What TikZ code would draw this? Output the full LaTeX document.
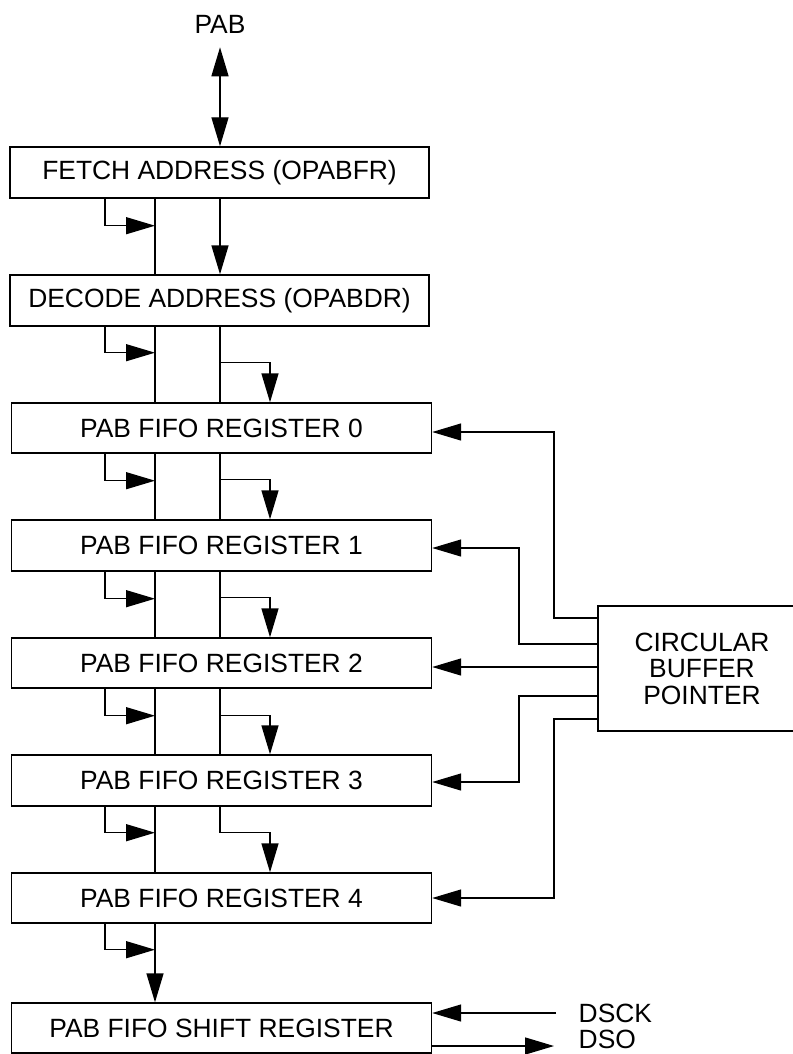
\documentclass[tikz,border=0pt]{standalone}
\usepackage{fontspec}
\setmainfont{Liberation Sans}
\usetikzlibrary{arrows.meta,calc}
\begin{document}
\begin{tikzpicture}[x=1pt,y=-1pt,
  line width=1.4pt,
  tip/.tip={Triangle[length=29pt,width=17pt]},
  arr/.style={-tip},
  arrboth/.style={tip-tip},
  box/.style={draw, line width=1.4pt, inner sep=0pt, anchor=center,
    font=\fontsize{26.4}{26.5}\selectfont},
  lbl/.style={inner sep=0pt, font=\fontsize{26.4}{26.5}\selectfont}]
\useasboundingbox (0,0) rectangle (792,1054);
\fill[white] (0,0) rectangle (792,1054);
% positions of the vertical buses
\coordinate (L) at (105,0);
\coordinate (M) at (155,0);
\coordinate (R) at (220,0);
\coordinate (B) at (270,0);
% nodes
\node[lbl] (pab) at (220,24) {PAB};
\node[box, minimum width=419pt, minimum height=51pt] (fetch) at (219.5,172.5) {FETCH ADDRESS (OPABFR)};
\node[box, minimum width=419pt, minimum height=51pt] (decode) at (219.5,300.5) {DECODE ADDRESS (OPABDR)};
\node[box, minimum width=420pt, minimum height=50pt] (reg0) at (221.5,428) {PAB FIFO REGISTER 0};
\node[box, minimum width=420pt, minimum height=51pt] (reg1) at (221.5,545.5) {PAB FIFO REGISTER 1};
\node[box, minimum width=420pt, minimum height=50pt] (reg2) at (221.5,663) {PAB FIFO REGISTER 2};
\node[box, minimum width=420pt, minimum height=51pt] (reg3) at (221.5,780.5) {PAB FIFO REGISTER 3};
\node[box, minimum width=420pt, minimum height=50pt] (reg4) at (221.5,898) {PAB FIFO REGISTER 4};
\node[box, minimum width=420pt, minimum height=50pt] (shift) at (221.5,1028) {PAB FIFO SHIFT REGISTER};
\node[box, align=center, minimum width=208pt, minimum height=125pt] (cbp) at (702,668.5) {CIRCULAR\\BUFFER\\POINTER};
\node[lbl, anchor=west] (dsck) at (578,1013) {DSCK};
\node[lbl, anchor=west] (dso) at (578,1039) {DSO};
% PAB bus
\draw[arrboth] ([yshift=-13.5pt]pab.south) -- (pab |- fetch.north);
% fetch -> decode
\draw[arr] (fetch.south -| L) |- ($(fetch.south -| M)+(0,27)$);
\draw (fetch.south -| M) -- (decode.north -| M);
\draw[arr] (fetch.south -| R) -- (decode.north -| R);
% decode -> reg0
\draw[arr] (decode.south -| L) |- ($(decode.south -| M)+(0,26)$);
\draw (decode.south -| M) -- (reg0.north -| M);
\draw (decode.south -| R) -- (reg0.north -| R);
\draw[arr] ($(decode.south -| R)+(0,36)$) -| (reg0.north -| B);
% reg0 -> reg1
\draw[arr] (reg0.south -| L) |- ($(reg0.south -| M)+(0,27)$);
\draw (reg0.south -| M) -- (reg1.north -| M);
\draw (reg0.south -| R) -- (reg1.north -| R);
\draw[arr] ($(reg0.south -| R)+(0,26)$) -| (reg1.north -| B);
% reg1 -> reg2
\draw[arr] (reg1.south -| L) |- ($(reg1.south -| M)+(0,27)$);
\draw (reg1.south -| M) -- (reg2.north -| M);
\draw (reg1.south -| R) -- (reg2.north -| R);
\draw[arr] ($(reg1.south -| R)+(0,26)$) -| (reg2.north -| B);
% reg2 -> reg3
\draw[arr] (reg2.south -| L) |- ($(reg2.south -| M)+(0,27)$);
\draw (reg2.south -| M) -- (reg3.north -| M);
\draw (reg2.south -| R) -- (reg3.north -| R);
\draw[arr] ($(reg2.south -| R)+(0,27)$) -| (reg3.north -| B);
% reg3 -> reg4
\draw[arr] (reg3.south -| L) |- ($(reg3.south -| M)+(0,26)$);
\draw (reg3.south -| M) -- (reg4.north -| M);
\draw[arr] (reg3.south -| R) |- ($(reg3.south -| B)+(0,26)$) -- (reg4.north -| B);
% reg4 -> shift
\draw[arr] (reg4.south -| L) |- ($(reg4.south -| M)+(0,26)$);
\draw[arr] (reg4.south -| M) -- (shift.north -| M);
% circular buffer pointer connections
\draw[arr] (cbp.west |- 0,618) -- (554,618) |- (reg0.east |- 0,432);
\draw[arr] (cbp.west |- 0,644) -- (519,644) |- (reg1.east |- 0,548);
\draw[arr] (cbp.west |- 0,667) -- (reg2.east |- 0,667);
\draw[arr] (cbp.west |- 0,696) -- (519,696) |- (reg3.east |- 0,782);
\draw[arr] (cbp.west |- 0,719) -- (554,719) |- (reg4.east |- 0,898);
% DSCK / DSO
\draw[arr] ([xshift=-22pt]dsck.west) -- (shift.east |- dsck);
\draw[arr] (shift.east |- 0,1046) -- ([xshift=-24pt]dso.west |- 0,1046);
\end{tikzpicture}
\end{document}
